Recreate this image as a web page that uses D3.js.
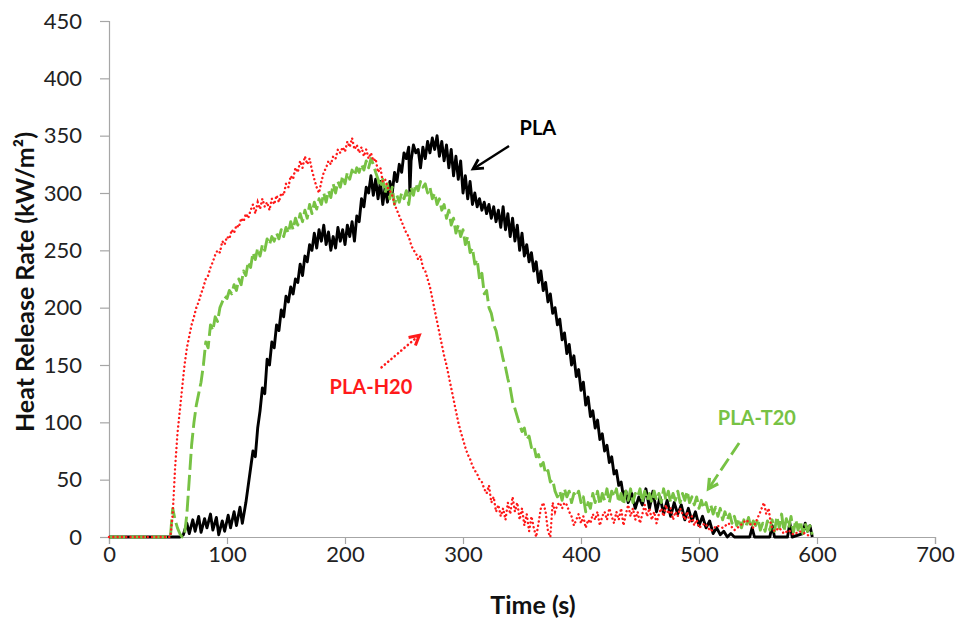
<!DOCTYPE html>
<html><head><meta charset="utf-8">
<script src="https://cdn.jsdelivr.net/npm/d3@7"></script>
<style>body{margin:0;background:#fff}svg{display:block}</style>
</head><body><svg id="c" width="957" height="622"></svg>
<script>
// ---- data: [time (s), HRR (kW/m2)] ----
const xTicks = [0,100,200,300,400,500,600,700];
const yTicks = [0,50,100,150,200,250,300,350,400,450];
const seriesNames = ["PLA","PLA-H20","PLA-T20"];

const pla = [[0,0],[60,0],[63,2],[66,12],[68,3],[71,15],[73,5],[76,18],[78,4],[81,16],[83,8],[86,20],[88,6],[91,17],[93,2],[96,14],[98,5],[101,19],[103,8],[106,22],[108,10],[111,26],[113,12],[116,30],[118,45],[120,60],[122,75],[124,70],[126,95],[128,110],[130,130],[132,125],[134,155],[136,150],[138,170],[140,165],[142,185],[144,180],[146,198],[148,192],[150,210],[152,205],[154,218],[156,212],[158,225],[160,222],[162,238],[164,228],[166,245],[168,240],[170,255],[172,250],[174,265],[176,252],[178,268],[180,258],[182,272],[184,255],[186,266],[188,250],[190,262],[192,252],[194,270],[196,258],[198,268],[200,255],[202,272],[204,262],[206,275],[208,258],[210,280],[212,275],[214,295],[216,288],[218,305],[220,300],[222,315],[224,298],[226,312],[228,295],[230,310],[232,290],[234,305],[236,292],[238,310],[240,300],[242,318],[244,310],[246,325],[248,318],[250,335],[252,330],[254,340],[255,300],[256,328],[258,342],[260,335],[262,338],[264,322],[266,340],[268,330],[270,345],[272,335],[274,348],[276,338],[278,350],[280,332],[282,345],[284,328],[286,342],[288,322],[290,338],[292,315],[294,332],[296,312],[298,328],[300,300],[302,315],[304,295],[306,310],[308,290],[310,300],[312,288],[314,295],[316,285],[318,292],[320,282],[322,290],[324,278],[326,288],[328,275],[330,285],[332,270],[334,288],[336,268],[338,282],[340,262],[342,278],[344,258],[346,272],[348,250],[350,265],[352,245],[354,255],[356,240],[358,248],[360,232],[362,240],[364,222],[366,232],[368,215],[370,222],[372,205],[374,212],[376,195],[378,200],[380,185],[382,190],[384,172],[386,178],[388,160],[390,168],[392,150],[394,158],[396,140],[398,146],[400,128],[402,135],[404,115],[406,122],[408,105],[410,110],[412,95],[414,102],[416,85],[418,90],[420,75],[422,80],[424,65],[426,70],[428,55],[430,58],[432,45],[434,48],[436,35],[438,40],[440,30],[443,38],[446,25],[449,35],[452,28],[455,42],[458,25],[461,40],[464,22],[467,35],[470,20],[473,32],[476,18],[479,30],[482,20],[485,28],[488,15],[491,25],[494,14],[497,22],[500,10],[503,18],[506,8],[509,14],[512,3],[515,8],[518,2],[521,5],[524,0],[527,3],[530,0],[543,0],[545,8],[547,0],[560,0],[562,10],[564,0],[575,0],[577,12],[579,0],[588,3],[590,12],[592,5],[594,10],[596,0]];

const plaH20 = [[0,0],[52,0],[54,20],[56,60],[58,90],[60,110],[62,130],[64,150],[66,165],[68,175],[70,185],[72,192],[74,200],[76,205],[78,212],[80,218],[82,225],[84,228],[86,235],[88,240],[90,246],[92,250],[94,248],[96,258],[98,255],[100,262],[102,260],[104,268],[106,265],[108,272],[110,270],[112,278],[114,275],[116,282],[118,278],[120,285],[122,290],[124,282],[126,292],[128,286],[130,295],[132,288],[134,292],[136,285],[138,295],[140,290],[142,298],[144,292],[146,300],[148,298],[150,308],[152,305],[154,315],[156,312],[158,322],[160,318],[162,328],[164,322],[166,332],[168,325],[170,330],[172,320],[174,312],[176,305],[178,300],[180,310],[182,318],[184,322],[186,328],[188,325],[190,332],[192,330],[194,338],[196,335],[198,340],[200,336],[202,345],[204,340],[206,348],[208,338],[210,342],[212,335],[214,340],[216,332],[218,338],[220,330],[222,335],[224,328],[226,330],[228,318],[230,322],[232,310],[234,312],[236,305],[238,302],[240,298],[242,290],[244,285],[246,280],[248,275],[250,270],[252,265],[254,262],[256,255],[258,250],[260,248],[262,242],[264,245],[266,235],[268,232],[270,225],[272,218],[274,208],[276,198],[278,188],[280,178],[282,168],[284,158],[286,150],[288,140],[290,130],[292,120],[294,110],[296,100],[298,92],[300,85],[302,78],[304,72],[306,68],[308,62],[310,58],[312,55],[314,50],[316,48],[318,42],[320,38],[322,45],[324,30],[326,35],[328,22],[330,28],[332,18],[334,25],[336,15],[338,30],[340,20],[342,35],[344,22],[346,30],[348,15],[350,25],[352,10],[354,20],[356,5],[358,18],[360,8],[362,0],[364,12],[366,25],[368,30],[370,22],[372,5],[374,0],[376,30],[378,22],[380,28],[382,30],[384,25],[386,30],[388,28],[390,22],[392,18],[394,10],[396,15],[398,20],[400,12],[402,18],[404,8],[406,15],[408,12],[410,20],[412,15],[414,22],[416,10],[418,18],[420,22],[422,15],[424,25],[426,18],[428,12],[430,22],[432,15],[434,25],[436,10],[438,20],[440,28],[442,18],[444,25],[446,15],[448,22],[450,12],[452,20],[454,28],[456,18],[458,25],[460,15],[462,22],[464,12],[466,20],[468,25],[470,18],[472,28],[474,20],[476,25],[478,15],[480,22],[482,18],[484,25],[486,20],[488,15],[490,22],[492,12],[494,18],[496,10],[498,15],[500,8],[505,12],[510,5],[515,10],[520,8],[525,12],[530,6],[535,10],[540,15],[543,12],[546,8],[549,15],[552,22],[555,30],[557,20],[559,25],[561,10],[564,5],[568,8],[572,3],[576,6],[580,2],[585,5],[590,3],[595,0]];

const plaT20 = [[0,0],[52,0],[54,25],[56,15],[58,8],[60,3],[62,0],[64,2],[66,20],[68,50],[70,80],[72,100],[74,115],[76,125],[78,135],[80,150],[82,170],[84,165],[86,185],[88,180],[90,192],[92,188],[94,200],[96,205],[98,210],[100,208],[102,215],[104,212],[106,220],[108,215],[110,225],[112,220],[114,232],[116,228],[118,240],[120,235],[122,248],[124,242],[126,252],[128,245],[130,255],[132,250],[134,260],[136,255],[138,262],[140,258],[142,265],[144,260],[146,268],[148,262],[150,270],[152,265],[154,275],[156,268],[158,278],[160,272],[162,282],[164,275],[166,285],[168,278],[170,290],[172,282],[174,292],[176,286],[178,295],[180,290],[182,300],[184,292],[186,302],[188,296],[190,308],[192,300],[194,310],[196,305],[198,315],[200,308],[202,318],[204,312],[206,320],[208,315],[210,322],[212,318],[214,325],[216,320],[218,328],[220,322],[222,330],[224,325],[226,318],[228,312],[230,305],[232,312],[234,300],[236,308],[238,295],[240,305],[242,290],[244,298],[246,292],[248,300],[250,295],[252,302],[254,290],[256,305],[258,298],[260,308],[262,302],[264,310],[266,305],[268,308],[270,300],[272,305],[274,295],[276,300],[278,290],[280,295],[282,285],[284,290],[286,278],[288,285],[290,272],[292,278],[294,265],[296,272],[298,262],[300,268],[302,255],[304,262],[306,248],[308,252],[310,238],[312,242],[314,225],[316,230],[318,212],[320,215],[322,200],[324,195],[326,185],[328,180],[330,170],[332,165],[334,155],[336,148],[338,138],[340,130],[342,118],[344,112],[346,105],[348,98],[350,92],[352,95],[354,85],[356,88],[358,78],[360,80],[362,70],[364,72],[366,62],[368,65],[370,55],[372,58],[374,48],[376,50],[378,40],[380,35],[382,40],[384,32],[386,42],[388,35],[390,40],[392,30],[394,38],[396,35],[398,40],[400,30],[402,35],[404,22],[406,30],[408,25],[410,38],[412,30],[414,40],[416,28],[418,38],[420,32],[422,42],[424,30],[426,40],[428,35],[430,42],[432,30],[434,38],[436,28],[438,40],[440,32],[442,42],[444,30],[446,38],[448,35],[450,42],[452,30],[454,40],[456,32],[458,38],[460,30],[462,40],[464,32],[466,38],[468,30],[470,42],[472,32],[474,40],[476,30],[478,38],[480,32],[482,40],[484,30],[486,38],[488,32],[490,40],[492,30],[494,35],[496,28],[498,35],[500,25],[502,32],[504,25],[506,30],[508,22],[510,28],[512,20],[514,26],[516,18],[518,25],[520,15],[522,22],[524,15],[526,20],[528,12],[530,18],[532,10],[534,16],[536,8],[538,15],[540,10],[542,17],[544,8],[546,14],[548,10],[550,16],[552,6],[554,12],[556,5],[558,14],[560,6],[562,15],[564,5],[566,18],[568,8],[570,20],[572,5],[574,16],[576,8],[578,18],[580,4],[582,15],[584,6],[586,14],[588,3],[590,12],[592,5],[594,10],[596,2]];

// annotation labels and arrows, in data units: [labelT, labelV, fromT, fromV, toT, toV]
const annPLA = [363.5, 356.5, 339, 341, 308.5, 321];
const annH20 = [222, 131, 231, 148, 263, 176];
const annT20 = [549, 104, 534, 82, 508, 42];

// ---- drawing ----
const svg = d3.select("#c");
const x = d3.scaleLinear().domain([0,700]).range([109,935]);
const y = d3.scaleLinear().domain([0,450]).range([537,21]);
const FONT = "Lato, 'Open Sans', sans-serif";
const AX = "#a6a6a6";

const xa = svg.append("g").attr("transform","translate(0,537)")
  .call(d3.axisBottom(x).tickValues(xTicks).tickSize(7).tickPadding(2));
const ya = svg.append("g").attr("transform","translate(109,0)")
  .call(d3.axisLeft(y).tickValues(yTicks).tickSize(9).tickPadding(18));
[xa,ya].forEach(g=>{
  g.select(".domain").attr("stroke",AX).attr("stroke-width",1.2);
  g.selectAll(".tick line").attr("stroke",AX).attr("stroke-width",1.2);
  g.selectAll(".tick text").attr("fill","#222").style("font-family",FONT).style("font-size","22px");
});

svg.append("text").attr("x",533).attr("y",614).attr("text-anchor","middle")
  .style("font-family",FONT).style("font-size","25px").style("font-weight","bold").attr("fill","#111")
  .text("Time (s)");
svg.append("text").attr("transform","translate(34,282) rotate(-90)").attr("text-anchor","middle")
  .style("font-family",FONT).style("font-size","25px").style("font-weight","bold").attr("fill","#111")
  .text("Heat Release Rate (kW/m²)");

const line = d3.line().x(d=>x(d[0])).y(d=>y(d[1]));
const plot = svg.append("g");
plot.append("path").datum(pla).attr("d",line).attr("fill","none")
  .attr("stroke","#000").attr("stroke-width",2.9).attr("stroke-linejoin","round");
plot.append("path").datum(plaT20).attr("d",line).attr("fill","none")
  .attr("stroke","#77c244").attr("stroke-width",2.9).attr("stroke-dasharray","16,5").attr("stroke-linejoin","round");
plot.append("path").datum(plaH20).attr("d",line).attr("fill","none")
  .attr("stroke","#ff1a1a").attr("stroke-width",2.4).attr("stroke-dasharray","0.1,4.2").attr("stroke-linecap","round");

function annotate(a, text, color, width, dash, cap){
  const g = svg.append("g");
  g.append("text").attr("x",x(a[0])).attr("y",y(a[1])).attr("dy","0.35em").attr("text-anchor","middle")
    .style("font-family",FONT).style("font-size","20px").style("font-weight","bold").attr("fill",color).text(text);
  const x1=x(a[2]), y1=y(a[3]), x2=x(a[4]), y2=y(a[5]);
  g.append("line").attr("x1",x1).attr("y1",y1).attr("x2",x2).attr("y2",y2)
    .attr("stroke",color).attr("stroke-width",width).attr("stroke-dasharray",dash).attr("stroke-linecap",cap);
  const ang = Math.atan2(y2-y1,x2-x1), L=11, sp=0.5;
  const p = [[x2-L*Math.cos(ang-sp), y2-L*Math.sin(ang-sp)],[x2,y2],[x2-L*Math.cos(ang+sp), y2-L*Math.sin(ang+sp)]];
  g.append("path").attr("d",d3.line()(p)).attr("fill","none").attr("stroke",color)
    .attr("stroke-width",width+0.4).attr("stroke-linejoin","miter").attr("stroke-linecap","butt");
}
annotate(annPLA,"PLA","#000",2.4,null,"butt");
annotate(annH20,"PLA-H20","#ff1a1a",2.6,"0.1,4.2","round");
annotate(annT20,"PLA-T20","#77c244",2.8,"14,5","butt");
</script></body></html>
